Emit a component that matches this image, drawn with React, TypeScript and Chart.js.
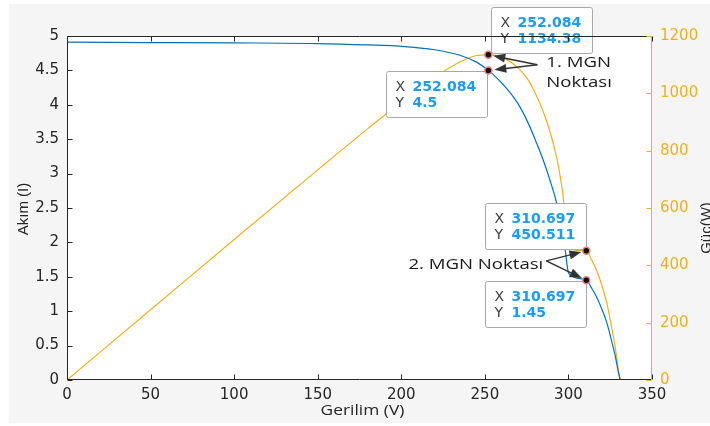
import React, { useEffect, useRef } from 'react';
import { Chart, registerables } from 'chart.js';

Chart.register(...registerables);

// ---- data ----
const voltage = [0, 50, 100, 150, 180, 200, 220, 235, 245, 252.084, 258, 264, 270, 276, 281, 285, 289, 292, 294.5, 296.5, 298, 299.2, 300, 302, 305, 310.697, 314, 317, 320, 323, 326, 328, 330, 331];
const current = [4.91, 4.905, 4.9, 4.89, 4.87, 4.85, 4.8, 4.72, 4.62, 4.5, 4.37, 4.21, 4.01, 3.73, 3.44, 3.19, 2.9, 2.66, 2.41, 2.15, 1.91, 1.67, 1.56, 1.51, 1.48, 1.45, 1.33, 1.2, 1.03, 0.83, 0.55, 0.35, 0.1, 0];
const power = [0, 245, 490, 733, 877, 970, 1056, 1109, 1132, 1134.38, 1130, 1115, 1088, 1046, 990, 935, 865, 800, 730, 655, 580, 500, 467, 456, 452, 450.511, 418, 380, 330, 268, 179, 115, 33, 0];

const mppVoltage = [252.084, 310.697];
const mppCurrent = [4.5, 1.45];
const mppPower = [1134.38, 450.511];

const xTitle = 'Gerilim (V)';
const yTitle = 'Akım (I)';
const y1Title = 'Güç(W)';
const note1 = ['1. MGN', 'Noktası'];
const note2 = '2. MGN Noktası';

const BLUE = '#0072BD';
const YELLOW = '#EDB120';
const AXIS = '#262626';

function stretchText(ctx: CanvasRenderingContext2D, text: string, x: number, y: number, align: CanvasTextAlign, sx: number) {
  ctx.save();
  ctx.translate(x, y);
  ctx.scale(sx, 1);
  ctx.textAlign = align;
  ctx.textBaseline = 'middle';
  ctx.fillText(text, 0, 0);
  ctx.restore();
}

function arrow(ctx: CanvasRenderingContext2D, x0: number, y0: number, px: number, py: number, gap: number) {
  const dx = px - x0, dy = py - y0;
  const len = Math.hypot(dx, dy);
  const ux = dx / len, uy = dy / len;
  const x1 = px - ux * gap, y1 = py - uy * gap;
  const L = 12, W = 4.5;
  ctx.save();
  ctx.strokeStyle = '#333';
  ctx.fillStyle = '#333';
  ctx.lineWidth = 1.5;
  ctx.beginPath();
  ctx.moveTo(x0, y0);
  ctx.lineTo(x1 - ux * L * 0.8, y1 - uy * L * 0.8);
  ctx.stroke();
  ctx.beginPath();
  ctx.moveTo(x1, y1);
  ctx.lineTo(x1 - ux * L - uy * W, y1 - uy * L + ux * W);
  ctx.lineTo(x1 - ux * L + uy * W, y1 - uy * L - ux * W);
  ctx.closePath();
  ctx.fill();
  ctx.restore();
}

function dataTip(ctx: CanvasRenderingContext2D, left: number, top: number, xs: string, ys: string) {
  const w = 101, h = 46;
  const l = Math.round(left) + 0.5, t = Math.round(top) + 0.5;
  ctx.save();
  ctx.fillStyle = '#ffffff';
  ctx.strokeStyle = '#a8a8a8';
  ctx.lineWidth = 1;
  ctx.beginPath();
  (ctx as any).roundRect(l, t, w, h, 2);
  ctx.fill();
  ctx.stroke();
  ctx.textBaseline = 'middle';
  ctx.textAlign = 'left';
  ctx.font = '14px "DejaVu Sans"';
  ctx.fillStyle = '#404040';
  ctx.fillText('X', l + 9, t + 16);
  ctx.fillText('Y', l + 9, t + 32);
  ctx.font = 'bold 14px "DejaVu Sans"';
  ctx.fillStyle = '#1a9bff';
  ctx.fillText(xs, l + 26, t + 16);
  ctx.fillText(ys, l + 26, t + 32);
  ctx.restore();
}

const overlay = {
  id: 'overlay',
  beforeDraw(chart: any) {
    const { ctx, chartArea: a } = chart;
    ctx.save();
    ctx.fillStyle = '#ffffff';
    ctx.fillRect(a.left, a.top, a.right - a.left, a.bottom - a.top);
    ctx.restore();
  },
  afterDatasetDraw(chart: any, args: any) {
    if (args.index !== 0) return;
    const { ctx, scales } = chart;
    const x = scales.x, y = scales.y, y1 = scales.y1;
    for (let i = 0; i < mppVoltage.length; i++) {
      const px = x.getPixelForValue(mppVoltage[i]);
      const pyP = y1.getPixelForValue(mppPower[i]);
      const pyI = y.getPixelForValue(mppCurrent[i]);
      if (i === 0) {
        dataTip(ctx, px + 3, pyP - 48, String(mppVoltage[i]), String(mppPower[i]));
        dataTip(ctx, px - 102, pyI + 1, String(mppVoltage[i]), String(mppCurrent[i]));
      } else {
        dataTip(ctx, px - 101, pyP - 48, String(mppVoltage[i]), String(mppPower[i]));
        dataTip(ctx, px - 101, pyI + 1, String(mppVoltage[i]), String(mppCurrent[i]));
      }
    }
  },
  afterDraw(chart: any) {
    const { ctx, chartArea: a, scales } = chart;
    const x = scales.x, y = scales.y, y1 = scales.y1;
    ctx.save();
    const L = Math.round(a.left) + 0.5, R = Math.round(a.right) - 0.5;
    const T = Math.round(a.top) + 0.5, B = Math.round(a.bottom) - 0.5;
    ctx.lineWidth = 1;
    ctx.strokeStyle = AXIS;
    ctx.beginPath();
    ctx.moveTo(L, T); ctx.lineTo(R, T);
    ctx.moveTo(L, T); ctx.lineTo(L, B);
    ctx.moveTo(L, B); ctx.lineTo(R, B);
    x.ticks.forEach((t: any) => {
      const px = Math.round(x.getPixelForValue(t.value)) + 0.5;
      ctx.moveTo(px, B); ctx.lineTo(px, B - 5);
      ctx.moveTo(px, T); ctx.lineTo(px, T + 5);
    });
    y.ticks.forEach((t: any) => {
      const py = Math.round(y.getPixelForValue(t.value)) + 0.5;
      ctx.moveTo(L, py); ctx.lineTo(L + 5, py);
    });
    ctx.stroke();
    ctx.strokeStyle = YELLOW;
    ctx.beginPath();
    ctx.moveTo(R, T - 0.5); ctx.lineTo(R, B + 0.5);
    y1.ticks.forEach((t: any) => {
      const py = Math.round(y1.getPixelForValue(t.value)) + 0.5;
      ctx.moveTo(R, py); ctx.lineTo(R - 5, py);
    });
    ctx.stroke();

    // titles
    ctx.fillStyle = AXIS;
    ctx.font = '14px "Open Sans"';
    stretchText(ctx, xTitle, (a.left + a.right) / 2 + 3, 407, 'center', 1.24);
    ctx.font = '15px "Liberation Sans"';
    ctx.save();
    ctx.translate(15, 205);
    ctx.rotate(-Math.PI / 2);
    ctx.textAlign = 'center';
    ctx.textBaseline = 'middle';
    ctx.fillText(yTitle, 0, 0);
    ctx.restore();
    ctx.save();
    ctx.translate(698, 224);
    ctx.rotate(-Math.PI / 2);
    ctx.textAlign = 'center';
    ctx.textBaseline = 'middle';
    ctx.fillText(y1Title, 0, 0);
    ctx.restore();

    // annotations
    const pAx = x.getPixelForValue(mppVoltage[0]);
    const pAy = y1.getPixelForValue(mppPower[0]);
    const pBy = y.getPixelForValue(mppCurrent[0]);
    const tail1x = pAx + 49, tail1y = pAy + 10;
    arrow(ctx, tail1x, tail1y, pAx, pAy, 5);
    arrow(ctx, tail1x, tail1y, pAx, pBy, 6);
    ctx.fillStyle = '#1a1a1a';
    ctx.font = '15px "Open Sans"';
    stretchText(ctx, note1[0], pAx + 58, pAy + 8, 'left', 1.24);
    stretchText(ctx, note1[1], pAx + 58, pAy + 28, 'left', 1.24);

    const pCx = x.getPixelForValue(mppVoltage[1]);
    const pCy = y1.getPixelForValue(mppPower[1]);
    const pDy = y.getPixelForValue(mppCurrent[1]);
    const tail2x = pCx - 40, tail2y = pCy + 10;
    arrow(ctx, tail2x, tail2y, pCx, pCy, 5);
    arrow(ctx, tail2x, tail2y, pCx, pDy, 5);
    stretchText(ctx, note2, tail2x - 3, tail2y + 4, 'right', 1.24);
    ctx.restore();
  },
};

export default function App() {
  const ref = useRef<HTMLCanvasElement>(null);
  useEffect(() => {
    if (!ref.current) return;
    const tickFont = { family: 'DejaVu Sans', size: 15 };
    const chart = new Chart(ref.current, {
      type: 'line',
      data: {
        datasets: [
          {
            data: voltage.map((v, i) => ({ x: v, y: current[i] })),
            borderColor: BLUE,
            borderWidth: 1.2,
            pointRadius: 0,
            cubicInterpolationMode: 'monotone',
            yAxisID: 'y',
            order: 0,
          },
          {
            data: voltage.map((v, i) => ({ x: v, y: power[i] })),
            borderColor: YELLOW,
            borderWidth: 1.2,
            pointRadius: 0,
            cubicInterpolationMode: 'monotone',
            yAxisID: 'y1',
            order: 0,
          },
          {
            data: mppVoltage.map((v, i) => ({ x: v, y: mppCurrent[i] })),
            showLine: false,
            pointRadius: 3.5,
            pointBackgroundColor: '#111111',
            pointBorderColor: '#f08080',
            pointBorderWidth: 1.5,
            yAxisID: 'y',
            order: -1,
          },
          {
            data: mppVoltage.map((v, i) => ({ x: v, y: mppPower[i] })),
            showLine: false,
            pointRadius: 3.5,
            pointBackgroundColor: '#111111',
            pointBorderColor: '#f08080',
            pointBorderWidth: 1.5,
            yAxisID: 'y1',
            order: -1,
          },
        ] as any,
      },
      options: {
        responsive: false,
        maintainAspectRatio: false,
        animation: false,
        layout: { padding: { top: 32, left: 0, right: 0, bottom: 0 } },
        plugins: { legend: { display: false }, tooltip: { enabled: false } },
        scales: {
          x: {
            type: 'linear',
            min: 0,
            max: 350,
            ticks: { stepSize: 50, padding: 6, font: tickFont, color: AXIS, maxRotation: 0, callback: (v: any) => String(v) },
            grid: { display: false, drawTicks: false },
            border: { display: false },
            afterFit: (s: any) => { s.height = 43; },
          },
          y: {
            position: 'left',
            min: 0,
            max: 5,
            ticks: { stepSize: 0.5, padding: 8, font: tickFont, color: AXIS, callback: (v: any) => String(v) },
            grid: { display: false, drawTicks: false },
            border: { display: false },
            afterFit: (s: any) => { s.width = 58; },
          },
          y1: {
            position: 'right',
            min: 0,
            max: 1200,
            ticks: { stepSize: 200, padding: 8, font: tickFont, color: YELLOW, callback: (v: any) => String(v) },
            grid: { display: false, drawTicks: false },
            border: { display: false },
            afterFit: (s: any) => { s.width = 58; },
          },
        },
      } as any,
      plugins: [overlay],
    });
    return () => chart.destroy();
  }, []);

  return (
    <div style={{ position: 'absolute', left: 9, top: 4, width: 701, height: 419, background: '#f5f5f5', overflow: 'hidden' }}>
      <canvas ref={ref} width={701} height={419} style={{ display: 'block', width: 701, height: 419 }} />
    </div>
  );
}
